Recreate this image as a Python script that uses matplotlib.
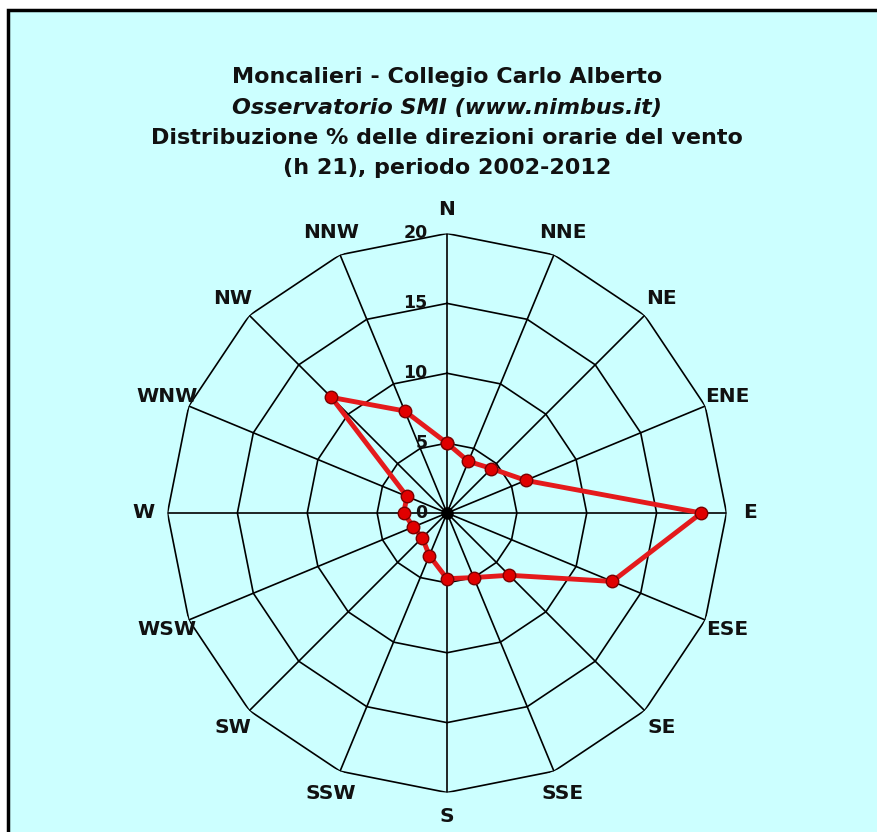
import numpy as np
import matplotlib
matplotlib.use("Agg")
import matplotlib.pyplot as plt
from matplotlib.patches import Rectangle

# wind direction distribution (%), clockwise from N
directions = ["N", "NNE", "NE", "ENE", "E", "ESE", "SE", "SSE",
              "S", "SSW", "SW", "WSW", "W", "WNW", "NW", "NNW"]
values = [5.0, 4.0, 4.5, 6.1, 18.2, 12.8, 6.3, 5.0,
          4.7, 3.3, 2.5, 2.6, 3.1, 3.1, 11.7, 7.9]
rings = [5, 10, 15, 20]
ring_labels = ["0", "5", "10", "15", "20"]

title_lines = [
    ("Moncalieri - Collegio Carlo Alberto", "normal"),
    ("Osservatorio SMI (www.nimbus.it)", "italic"),
    ("Distribuzione % delle direzioni orarie del vento", "normal"),
    ("(h 21), periodo 2002-2012", "normal"),
]

W, H = 877, 832
fig = plt.figure(figsize=(W / 100, H / 100), dpi=100, facecolor="white")

# cyan panel with black border on top/left
fig.patches.append(Rectangle((8 / W, -0.05), 1.1, 1 - 10 / H + 0.05,
                             transform=fig.transFigure, facecolor="#CCFFFF",
                             edgecolor="black", linewidth=2.5, zorder=-5))

cx, cy, rad = 447, 513, 279.5
ax = fig.add_axes([(cx - rad) / W, (H - cy - rad) / H, 2 * rad / W, 2 * rad / H],
                  projection="polar")
ax.set_zorder(2)
ax.set_facecolor("none")
ax.set_theta_zero_location("N")
ax.set_theta_direction(-1)
ax.set_ylim(0, 20)
ax.grid(False)
ax.set_xticks([])
ax.set_yticks([])
ax.spines["polar"].set_visible(False)

n = len(directions)
theta = np.arange(n) * 2 * np.pi / n
theta_closed = np.append(theta, theta[0])

# polygonal grid
for r in rings:
    ax.plot(theta_closed, [r] * (n + 1), color="black", lw=1.2, zorder=1)
for t in theta:
    ax.plot([t, t], [0, 20], color="black", lw=1.2, zorder=1)

# ring labels on the N axis
for i, lab in enumerate(ring_labels):
    r = i * 5
    ax.annotate(lab, xy=(0, r), xytext=(-14, 0), textcoords="offset points",
                ha="right", va="center", fontsize=12.5, fontweight="bold",
                family="DejaVu Sans", color="#111111", zorder=3)

# direction labels
for t, d in zip(theta, directions):
    ax.text(t, 21.7, d, ha="center", va="center", fontsize=14.5,
            fontweight="bold", family="DejaVu Sans", color="#111111",
            clip_on=False)

# data
vals_closed = values + [values[0]]
ax.plot(theta_closed, vals_closed, color="#E41A1C", lw=3.5, zorder=4,
        marker="o", markersize=9, markerfacecolor="#E00000",
        markeredgecolor="#7A0000", markeredgewidth=1.0, clip_on=False)
ax.plot([0], [0], marker="o", markersize=8, color="black", zorder=5)

# title
ys = [77, 108, 138, 168]
for (txt, style), y in zip(title_lines, ys):
    fig.text(cx / W, 1 - y / H, txt, ha="center", va="center", fontsize=16,
             fontweight="bold", fontstyle=style, family="DejaVu Sans",
             color="#111111")

fig.savefig("out.png", dpi=100, facecolor=fig.get_facecolor())
